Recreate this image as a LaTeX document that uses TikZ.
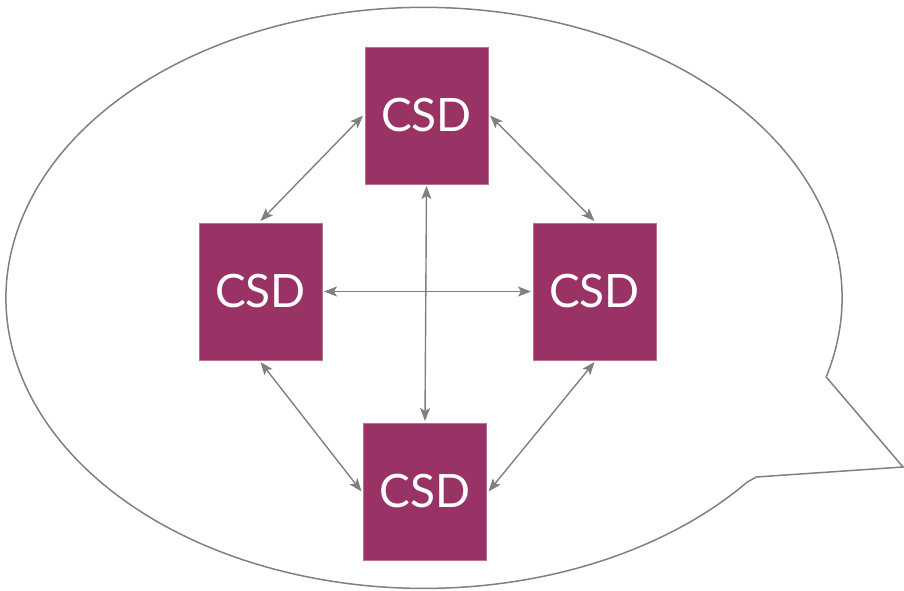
\documentclass[tikz,border=0pt]{standalone}
\usepackage{fontspec}
\newfontfamily\boxfont{Lato}
\usetikzlibrary{arrows.meta}
\definecolor{csdcol}{RGB}{153,51,102}
\definecolor{linegray}{RGB}{128,128,128}
\tikzset{
  csdbox/.style={fill=csdcol, draw=csdcol!70!white, line width=0.6pt, minimum width=123pt, minimum height=137pt, inner sep=0pt, outer sep=2pt, text=white, font=\boxfont\fontsize{46}{46}\selectfont},
  link/.style={draw=linegray, line width=1.4pt, {Stealth[length=13pt,width=10pt,inset=3pt]}-{Stealth[length=13pt,width=10pt,inset=3pt]}},
  bubble/.style={draw=linegray, line width=1.5pt, line join=miter}
}
\begin{document}
\begin{tikzpicture}[x=1pt,y=-1pt]
\useasboundingbox (0,0) rectangle (904,591);
% speech bubble
\draw[bubble] (826.2,377) arc[start angle=-15.8, end angle=320.6, x radius=418pt, y radius=290.5pt] -- (756,477) -- (903,467) -- cycle;
% boxes
\node[csdbox] (top) at (426.5,115.5) {CSD};
\node[csdbox] (left) at (260.5,291.5) {CSD};
\node[csdbox] (right) at (594.5,291.5) {CSD};
\node[csdbox] (bottom) at (425,491.5) {CSD};
% connectors
\draw[link] (top.west) -- (left.north);
\draw[link] (top.east) -- (right.north);
\draw[link] (top.south) -- (bottom.north);
\draw[link] (left.east) -- (right.west);
\draw[link] (left.south) -- (bottom.west);
\draw[link] (right.south) -- (bottom.east);
\end{tikzpicture}
\end{document}
